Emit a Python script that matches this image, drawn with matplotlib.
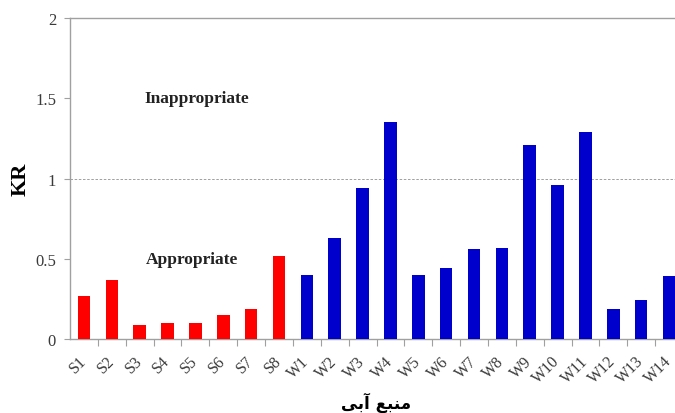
import numpy as np
import matplotlib
matplotlib.use('Agg')
import matplotlib.pyplot as plt

# water sources and their KR values
springs = ['S1', 'S2', 'S3', 'S4', 'S5', 'S6', 'S7', 'S8']
wells = ['W1', 'W2', 'W3', 'W4', 'W5', 'W6', 'W7', 'W8', 'W9', 'W10', 'W11', 'W12', 'W13', 'W14']
krSprings = [0.27, 0.37, 0.09, 0.10, 0.10, 0.15, 0.19, 0.52]
krWells = [0.40, 0.63, 0.94, 1.35, 0.40, 0.44, 0.56, 0.57, 1.21, 0.96, 1.29, 0.19, 0.24, 0.39]
yTicks = [0, 0.5, 1, 1.5, 2]
yTickLabels = ['0', '0.5', '1', '1.5', '2']

# Persian x label ("منبع آبی") written with presentation forms in display order
xTitle = '\ufbfd\ufe91\ufe81 \ufeca\ufe92\ufee8\ufee3'

serif = 'Liberation Serif'
axisGrey = '#a0a0a0'
textGrey = '#3a3a3a'

names = springs + wells
x = np.arange(len(names))

fig = plt.figure(figsize=(6.75, 4.14), dpi=100)
ax = fig.add_axes([70/675, 74/414, 613/675, 321/414])

ax.bar(x[:len(springs)], krSprings, width=0.45, color='#ff0000', zorder=3)
ax.bar(x[len(springs):], krWells, width=0.45, color='#0000cc', zorder=3)

ax.axhline(1.0, color='#909090', linestyle=(0, (3, 2)), linewidth=0.6, zorder=1)

ax.set_xlim(-0.5, len(names) - 0.5)
ax.set_ylim(0, 2)

ax.set_yticks(yTicks)
ax.set_yticklabels(yTickLabels, fontfamily=serif, fontsize=12, color=textGrey)
ax.tick_params(axis='y', length=4, width=0.8, color=axisGrey, pad=6)

ax.set_xticks(x)
ax.set_xticklabels(names, rotation=45, ha='right', va='center', rotation_mode='anchor',
                   fontfamily=serif, fontsize=11.5, color=textGrey)
ax.tick_params(axis='x', which='major', length=0, pad=14)
ax.set_xticks(np.arange(len(names)) + 0.5, minor=True)
ax.tick_params(axis='x', which='minor', length=5, width=0.8, color=axisGrey)

for side in ['left', 'bottom', 'top']:
    ax.spines[side].set_color(axisGrey)
    ax.spines[side].set_linewidth(1.0)
ax.spines['right'].set_visible(False)

ax.text(4.06, 1.5, 'Inappropriate', ha='center', va='center',
        fontfamily=serif, fontweight='bold', fontsize=12.5, color='#222222')
ax.text(3.88, 0.5, 'Appropriate', ha='center', va='center',
        fontfamily=serif, fontweight='bold', fontsize=12.5, color='#222222')

ax.set_ylabel('KR', fontfamily=serif, fontweight='bold', fontsize=16, labelpad=3)
ax.set_xlabel(xTitle, fontfamily=['DejaVu Sans'], fontweight='bold', fontsize=12, labelpad=4)

fig.savefig('out.png', dpi=100)
